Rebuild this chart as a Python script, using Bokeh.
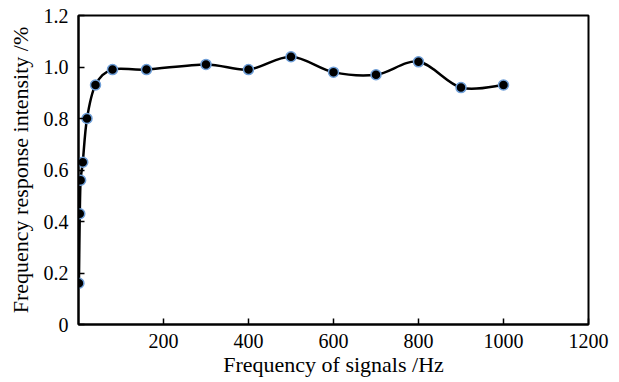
import numpy as np
from bokeh.plotting import figure
from bokeh.models import FixedTicker, Range1d
from bokeh.embed import file_html
from bokeh.resources import INLINE

# Data
freq = [1, 3, 5, 10, 20, 40, 80, 160, 300, 400, 500, 600, 700, 800, 900, 1000]
resp = [0.16, 0.43, 0.56, 0.63, 0.80, 0.93, 0.99, 0.99, 1.01, 0.99, 1.04, 0.98, 0.97, 1.02, 0.92, 0.93]

x_ticks = [200, 400, 600, 800, 1000, 1200]
y_ticks = [0, 0.2, 0.4, 0.6, 0.8, 1.0, 1.2]
y_tick_labels = ["0", "0.2", "0.4", "0.6", "0.8", "1.0", "1.2"]

FONT = "Liberation Serif"

p = figure(width=619, height=382, output_backend="svg", toolbar_location=None,
           x_range=Range1d(0, 1200), y_range=Range1d(0, 1.2),
           min_border_left=78, min_border_right=31, min_border_top=15, min_border_bottom=58)
p.xgrid.visible = False
p.ygrid.visible = False
p.outline_line_color = "black"
p.outline_line_width = 2
p.outline_line_alpha = 1
p.background_fill_color = "white"
p.border_fill_color = "white"

# Smooth curve: Catmull-Rom style Bezier segments through the data points
xs = np.array(freq, dtype=float)
ys = np.array(resp, dtype=float)
n = len(xs)
x0s, y0s, x1s, y1s, cx0, cy0, cx1, cy1 = [], [], [], [], [], [], [], []
for i in range(n - 1):
    im1 = max(i - 1, 0)
    ip2 = min(i + 2, n - 1)
    x0s.append(xs[i]); y0s.append(ys[i])
    x1s.append(xs[i + 1]); y1s.append(ys[i + 1])
    cx0.append(xs[i] + (xs[i + 1] - xs[im1]) / 6.0)
    cy0.append(ys[i] + (ys[i + 1] - ys[im1]) / 6.0)
    cx1.append(xs[i + 1] - (xs[ip2] - xs[i]) / 6.0)
    cy1.append(ys[i + 1] - (ys[ip2] - ys[i]) / 6.0)
p.bezier(x0=x0s, y0=y0s, x1=x1s, y1=y1s, cx0=cx0, cy0=cy0, cx1=cx1, cy1=cy1,
         line_color="black", line_width=2.5)

p.scatter(freq, resp, marker="circle", size=10, fill_color="black",
          line_color="#6f9fd8", line_width=1.5)

for ax in (p.xaxis[0], p.yaxis[0]):
    ax.axis_line_color = "black"
    ax.axis_line_width = 2
    ax.major_tick_line_color = "black"
    ax.major_tick_line_width = 1.5
    ax.major_tick_in = 6
    ax.major_tick_out = 0
    ax.minor_tick_line_color = None
    ax.major_label_text_font = FONT
    ax.major_label_text_font_size = "20px"
    ax.major_label_text_color = "black"
    ax.axis_label_text_font = FONT
    ax.axis_label_text_font_size = "22px"
    ax.axis_label_text_font_style = "normal"
    ax.axis_label_text_color = "black"

p.xaxis[0].ticker = FixedTicker(ticks=x_ticks)
p.yaxis[0].ticker = FixedTicker(ticks=y_ticks)
p.yaxis[0].major_label_overrides = {t: l for t, l in zip(y_ticks, y_tick_labels)}
p.xaxis[0].axis_label = "Frequency of signals /Hz"
p.yaxis[0].axis_label = "Frequency response intensity /%"
p.xaxis[0].major_label_standoff = 9
p.yaxis[0].major_label_standoff = 10
p.xaxis[0].axis_label_standoff = 1
p.yaxis[0].axis_label_standoff = 8

open("out.html", "w").write(file_html(p, INLINE))
